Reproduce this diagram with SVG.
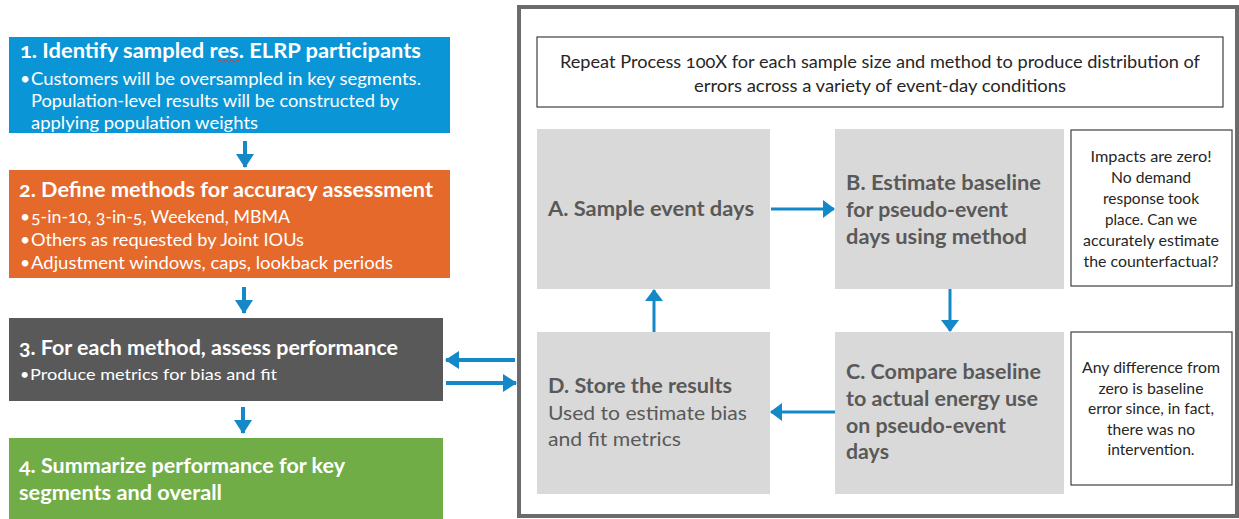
<svg xmlns="http://www.w3.org/2000/svg" width="1239" height="519" viewBox="0 0 1239 519">
<defs>
<style>
.t{font-family:Lato,"Open Sans","Liberation Sans",sans-serif;font-variant-numeric:oldstyle-nums;}
.ttl{font-family:Lato,"Open Sans","Liberation Sans",sans-serif;font-weight:bold;font-size:21.5px;fill:#ffffff;font-variant-numeric:oldstyle-nums;}
.bul{font-family:Lato,"Open Sans","Liberation Sans",sans-serif;font-size:17.5px;fill:#ffffff;font-variant-numeric:oldstyle-nums;}
.gb{fill:#d9d9d9;}
.gt{font-family:Lato,"Open Sans","Liberation Sans",sans-serif;font-weight:bold;font-size:20px;fill:#595959;}
.gn{font-family:Lato,"Open Sans","Liberation Sans",sans-serif;font-size:20px;fill:#595959;}
.note{fill:#ffffff;stroke:#404040;stroke-width:1.2;}
.nt{font-family:Lato,"Open Sans","Liberation Sans",sans-serif;font-size:16px;fill:#262626;text-anchor:middle;}
.conn{stroke:#1589c7;stroke-width:3;fill:none;}
.connL{stroke:#1589c7;stroke-width:4;fill:none;}
</style>
<marker id="ah" markerUnits="userSpaceOnUse" markerWidth="14" markerHeight="18" refX="13" refY="9" orient="auto">
<path d="M0,0 L14,9 L0,18 Z" fill="#1589c7"/>
</marker>
<marker id="ahL" markerUnits="userSpaceOnUse" markerWidth="12" markerHeight="18" refX="11" refY="9" orient="auto">
<path d="M0,0 L12,9 L0,18 Z" fill="#1589c7"/>
</marker>
</defs>
<rect width="1239" height="519" fill="#ffffff"/>

<g id="step1">
<rect x="9" y="37" width="441" height="96" fill="#0a96d6"/>
<text class="ttl" x="20" y="58" textLength="401" lengthAdjust="spacingAndGlyphs">1. Identify sampled res. ELRP participants</text>
<path d="M218,61 q1.5,-2 3,0 t3,0 t3,0 t3,0 t3,0 t3,0 t3,0" stroke="#d04040" stroke-width="0.8" fill="none"/>
<text class="bul" x="20" y="85">•</text>
<text class="bul" x="31" y="85" textLength="390" lengthAdjust="spacingAndGlyphs">Customers will be oversampled in key segments.</text>
<text class="bul" x="31" y="107" textLength="368" lengthAdjust="spacingAndGlyphs">Population-level results will be constructed by</text>
<text class="bul" x="31" y="129" textLength="227" lengthAdjust="spacingAndGlyphs">applying population weights</text>
</g>

<g id="step2">
<rect x="9" y="170" width="441" height="108" fill="#e5692a"/>
<text class="ttl" x="19" y="197" textLength="414" lengthAdjust="spacingAndGlyphs">2. Define methods for accuracy assessment</text>
<text class="bul" x="20" y="223">•</text>
<text class="bul" x="31" y="223" textLength="259" lengthAdjust="spacingAndGlyphs">5-in-10, 3-in-5, Weekend, MBMA</text>
<text class="bul" x="20" y="246">•</text>
<text class="bul" x="31" y="246" textLength="273" lengthAdjust="spacingAndGlyphs">Others as requested by Joint IOUs</text>
<text class="bul" x="20" y="269">•</text>
<text class="bul" x="31" y="269" textLength="362" lengthAdjust="spacingAndGlyphs">Adjustment windows, caps, lookback periods</text>
</g>

<g id="step3">
<rect x="9" y="318" width="434" height="83" fill="#595959"/>
<text class="ttl" x="19" y="355" textLength="379" lengthAdjust="spacingAndGlyphs">3. For each method, assess performance</text>
<text class="bul" x="20" y="380" style="font-size:16px">•</text>
<text class="bul" x="30" y="380" style="font-size:16px" textLength="247" lengthAdjust="spacingAndGlyphs">Produce metrics for bias and fit</text>
</g>

<g id="step4">
<rect x="9" y="438" width="434" height="81" fill="#70ad47"/>
<text class="ttl" x="19" y="473" textLength="326" lengthAdjust="spacingAndGlyphs">4. Summarize performance for key</text>
<text class="ttl" x="19" y="500" textLength="203" lengthAdjust="spacingAndGlyphs">segments and overall</text>
</g>

<g id="frame">
<rect x="519" y="7" width="718" height="509" fill="none" stroke="#6b6b6b" stroke-width="4"/>
</g>

<g id="repeat">
<rect x="537" y="37" width="686" height="70" fill="#ffffff" stroke="#404040" stroke-width="1.2"/>
<text class="t" x="880" y="68" font-size="17" fill="#262626" text-anchor="middle" textLength="640" lengthAdjust="spacingAndGlyphs">Repeat Process 100X for each sample size and method to produce distribution of</text>
<text class="t" x="880" y="92" font-size="17" fill="#262626" text-anchor="middle" textLength="372" lengthAdjust="spacingAndGlyphs">errors across a variety of event-day conditions</text>
</g>

<g id="nodeA">
<rect class="gb" x="537" y="129" width="233" height="160"/>
<text class="gt" x="548" y="216" textLength="206" lengthAdjust="spacingAndGlyphs">A. Sample event days</text>
</g>

<g id="nodeB">
<rect class="gb" x="835" y="129" width="229" height="160"/>
<text class="gt" x="846" y="190" textLength="195" lengthAdjust="spacingAndGlyphs">B. Estimate baseline</text>
<text class="gt" x="846" y="217" textLength="162" lengthAdjust="spacingAndGlyphs">for pseudo-event</text>
<text class="gt" x="846" y="244" textLength="181" lengthAdjust="spacingAndGlyphs">days using method</text>
</g>

<g id="note1">
<rect class="note" x="1071" y="130" width="161" height="156"/>
<text class="nt" x="1151" y="162" textLength="121" lengthAdjust="spacingAndGlyphs">Impacts are zero!</text>
<text class="nt" x="1151" y="183" textLength="80" lengthAdjust="spacingAndGlyphs">No demand</text>
<text class="nt" x="1151" y="204" textLength="96" lengthAdjust="spacingAndGlyphs">response took</text>
<text class="nt" x="1151" y="225" textLength="92" lengthAdjust="spacingAndGlyphs">place. Can we</text>
<text class="nt" x="1151" y="246" textLength="136" lengthAdjust="spacingAndGlyphs">accurately estimate</text>
<text class="nt" x="1151" y="267" textLength="135" lengthAdjust="spacingAndGlyphs">the counterfactual?</text>
</g>

<g id="nodeD">
<rect class="gb" x="537" y="332" width="233" height="162"/>
<text class="gt" x="548" y="393" textLength="184" lengthAdjust="spacingAndGlyphs">D. Store the results</text>
<text class="gn" x="548" y="420" textLength="199" lengthAdjust="spacingAndGlyphs">Used to estimate bias</text>
<text class="gn" x="548" y="446" textLength="133" lengthAdjust="spacingAndGlyphs">and fit metrics</text>
</g>

<g id="nodeC">
<rect class="gb" x="835" y="332" width="229" height="162"/>
<text class="gt" x="846" y="379" textLength="195" lengthAdjust="spacingAndGlyphs">C. Compare baseline</text>
<text class="gt" x="846" y="406" textLength="192" lengthAdjust="spacingAndGlyphs">to actual energy use</text>
<text class="gt" x="846" y="433" textLength="160" lengthAdjust="spacingAndGlyphs">on pseudo-event</text>
<text class="gt" x="846" y="459" textLength="43" lengthAdjust="spacingAndGlyphs">days</text>
</g>

<g id="note2">
<rect class="note" x="1071" y="332" width="161" height="153"/>
<text class="nt" x="1151" y="373" textLength="138" lengthAdjust="spacingAndGlyphs">Any difference from</text>
<text class="nt" x="1151" y="394" textLength="105" lengthAdjust="spacingAndGlyphs">zero is baseline</text>
<text class="nt" x="1151" y="414" textLength="126" lengthAdjust="spacingAndGlyphs">error since, in fact,</text>
<text class="nt" x="1151" y="435" textLength="88" lengthAdjust="spacingAndGlyphs">there was no</text>
<text class="nt" x="1151" y="455" textLength="87" lengthAdjust="spacingAndGlyphs">intervention.</text>
</g>

<g id="connectors">
<line class="connL" x1="245" y1="141" x2="245" y2="167" marker-end="url(#ah)"/>
<line class="connL" x1="244" y1="287" x2="244" y2="313" marker-end="url(#ah)"/>
<line class="connL" x1="243" y1="407" x2="243" y2="433" marker-end="url(#ah)"/>
<line class="connL" x1="515" y1="360" x2="446" y2="360" marker-end="url(#ah)"/>
<line class="connL" x1="446" y1="383" x2="516" y2="383" marker-end="url(#ah)"/>
<line class="conn" x1="771" y1="209" x2="834" y2="209" marker-end="url(#ahL)"/>
<line class="conn" x1="950" y1="289" x2="950" y2="331" marker-end="url(#ahL)"/>
<line class="conn" x1="835" y1="412" x2="771" y2="412" marker-end="url(#ahL)"/>
<line class="conn" x1="654" y1="332" x2="654" y2="290" marker-end="url(#ahL)"/>
</g>
</svg>
